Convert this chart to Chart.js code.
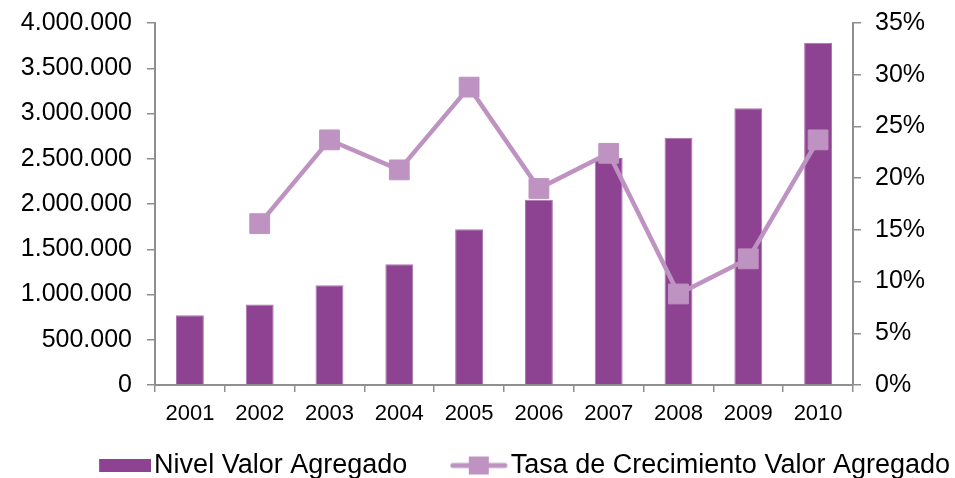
<!DOCTYPE html>
<html>
<head>
<meta charset="utf-8">
<title>Nivel y Tasa de Crecimiento Valor Agregado</title>
<script src="https://cdn.jsdelivr.net/npm/chart.js@4.4.1/dist/chart.umd.min.js"></script>
<style>
    html, body { margin: 0; padding: 0; background: #fff; overflow: hidden; }
    #wrap { width: 955px; height: 478px; position: relative; }
</style>
</head>
<body>
<div id="wrap"><canvas id="myChart"></canvas></div>
<script>
        // DATA
        var years = ['2001','2002','2003','2004','2005','2006','2007','2008','2009','2010'];
        var nivelValor = [770000, 889000, 1103000, 1335000, 1722000, 2047000, 2507000, 2733000, 3057000, 3783000];
        var tasaCrecimiento = [null, 15.6, 23.7, 20.8, 28.8, 19.0, 22.4, 8.8, 12.2, 23.7];
        var leftTicks = [0, 500000, 1000000, 1500000, 2000000, 2500000, 3000000, 3500000, 4000000];
        var rightTicks = [0, 5, 10, 15, 20, 25, 30, 35];

        var barColor = '#8D4391';
        var lineColor = '#BE93C2';
        var axisColor = '#8F8F8F';
        var fontFam = '"Liberation Sans", Arial, sans-serif';

        // 4.000.000 style
        function miles(v){
            return String(v).replace(/\B(?=(\d{3})+(?!\d))/g, '.');
        }

        // LEGEND SWATCHES (drawn at the right side of the image, next to the text)
        function barSwatch(){
            var c = document.createElement('canvas');
            c.width = 91; c.height = 13;
            var x = c.getContext('2d');
            x.fillStyle = barColor;
            x.fillRect(39, 0, 52, 13);
            return c;
        }
        function lineSwatch(){
            var c = document.createElement('canvas');
            c.width = 93; c.height = 20;
            var x = c.getContext('2d');
            x.strokeStyle = lineColor;
            x.lineWidth = 5;
            x.lineCap = 'round';
            x.beginPath();
            x.moveTo(37, 10); x.lineTo(89, 10);
            x.stroke();
            x.fillStyle = lineColor;
            x.fillRect(53, 1, 20, 18);
            return c;
        }
        var swatches = [barSwatch(), lineSwatch()];

        var ctx = document.getElementById('myChart').getContext('2d');
        var myChart = new Chart(ctx, {
            data: {
                labels: years,
                datasets: [{
                    type: 'line',
                    label: 'Tasa de Crecimiento Valor Agregado',
                    data: tasaCrecimiento,
                    yAxisID: 'y1',
                    order: 0,
                    borderColor: lineColor,
                    backgroundColor: lineColor,
                    borderWidth: 4.5,
                    pointStyle: 'rect',
                    pointRadius: 14,
                    pointBackgroundColor: lineColor,
                    pointBorderColor: lineColor,
                    pointBorderWidth: 1,
                    tension: 0,
                    spanGaps: false
                },{
                    type: 'bar',
                    label: 'Nivel Valor Agregado',
                    data: nivelValor,
                    yAxisID: 'y',
                    order: 1,
                    backgroundColor: barColor,
                    borderColor: '#A874AB',
                    borderWidth: 1,
                    barPercentage: 0.4,
                    categoryPercentage: 1
                }]
            },
            options: {
                responsive: true,
                maintainAspectRatio: false,
                animation: false,
                devicePixelRatio: 1,
                layout: { padding: { left: 5, right: -15, top: 23, bottom: -11 } },
                plugins: {
                    tooltip: { enabled: false },
                    legend: {
                        position: 'bottom',
                        align: 'end',
                        labels: {
                            usePointStyle: true,
                            pointStyleWidth: 70,
                            padding: 20,
                            color: '#000',
                            font: { family: fontFam, size: 27 },
                            generateLabels: function(chart){
                                var names = ['Nivel Valor Agregado', 'Tasa de Crecimiento Valor Agregado'];
                                return names.map(function(n, i){
                                    return {
                                        text: n,
                                        pointStyle: swatches[i],
                                        fillStyle: i == 0 ? barColor : lineColor,
                                        strokeStyle: 'rgba(0,0,0,0)',
                                        lineWidth: 0,
                                        fontColor: '#000',
                                        hidden: false,
                                        datasetIndex: i == 0 ? 1 : 0
                                    };
                                });
                            }
                        }
                    }
                },
                scales: {
                    x: {
                        offset: true,
                        grid: { offset: true, drawOnChartArea: false, drawTicks: true, tickLength: 7, color: axisColor, lineWidth: 1.5 },
                        border: { display: true, color: axisColor, width: 2 },
                        ticks: { color: '#000', padding: 9, font: { family: fontFam, size: 22 } },
                        afterFit: function(scale){ scale.height = 47; }
                    },
                    y: {
                        position: 'left',
                        min: 0,
                        max: 4000000,
                        afterBuildTicks: function(scale){
                            scale.ticks = leftTicks.map(function(v){ return { value: v }; });
                        },
                        grid: { drawOnChartArea: false, drawTicks: true, tickLength: 8, color: axisColor, lineWidth: 1.5 },
                        border: { display: true, color: axisColor, width: 2 },
                        ticks: {
                            color: '#000', padding: 15,
                            font: { family: fontFam, size: 25 },
                            callback: function(v){ return miles(v); }
                        },
                        afterFit: function(scale){
                            scale.width = 150;
                            scale.paddingTop = 0;
                            scale.paddingBottom = 0;
                        }
                    },
                    y1: {
                        position: 'right',
                        min: 0,
                        max: 35,
                        afterBuildTicks: function(scale){
                            scale.ticks = rightTicks.map(function(v){ return { value: v }; });
                        },
                        grid: { drawOnChartArea: false, drawTicks: true, tickLength: 8, color: axisColor, lineWidth: 1.5 },
                        border: { display: true, color: axisColor, width: 2 },
                        ticks: {
                            color: '#000', padding: 14,
                            font: { family: fontFam, size: 25 },
                            callback: function(v){ return v + '%'; }
                        },
                        afterFit: function(scale){
                            scale.width = 117;
                            scale.paddingTop = 0;
                            scale.paddingBottom = 0;
                        }
                    }
                }
            }
        });
</script>
</body>
</html>
